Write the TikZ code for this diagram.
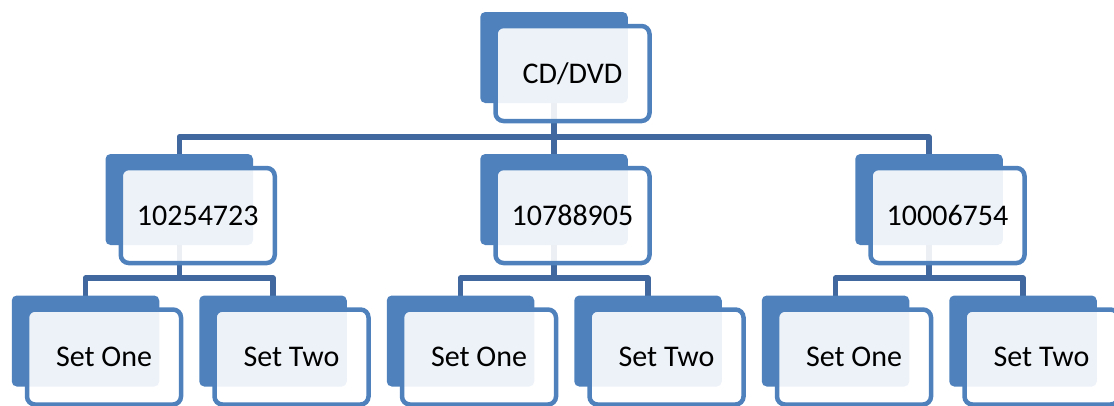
\documentclass[tikz,border=0pt]{standalone}
\usepackage{fontspec}
\setmainfont{Carlito}
\usetikzlibrary{backgrounds}
\definecolor{accent}{HTML}{4F81BD}
\definecolor{linkblue}{HTML}{41699F}

% card = blue back plate + translucent front panel carrying the label
\newcommand{\card}[4]{%
  \node[backbox] (#1) at (#2,#3) {};
  \node[frontbox] (#1F) at ([xshift=18.5pt,yshift=-16pt]#1.center) {#4};
}

\begin{document}
\begin{tikzpicture}[x=1pt,y=-1pt,
  backbox/.style={rectangle, rounded corners=5pt, fill=accent,
    minimum width=147.5pt, minimum height=91pt, inner sep=0pt},
  frontbox/.style={rectangle, rounded corners=8pt, draw=accent, line width=4.5pt,
    fill=white, fill opacity=0.9, text opacity=1, draw opacity=1,
    minimum width=154pt, minimum height=95pt, inner sep=0pt,
    font=\fontsize{30}{32}\selectfont},
  link/.style={draw=linkblue, line width=5.5pt, line join=round}]

\useasboundingbox (0,0) rectangle (1114,405);

% top level
\card{root}{554}{57.5}{CD/DVD}
% second level
\card{na}{179.25}{199.5}{10254723}
\card{nb}{554}{199.5}{10788905}
\card{nc}{929}{199.5}{10006754}
% third level
\card{a1}{85.5}{341}{Set One}
\card{a2}{273}{341}{Set Two}
\card{b1}{460.5}{341}{Set One}
\card{b2}{648}{341}{Set Two}
\card{c1}{835.5}{341}{Set One}
\card{c2}{1023}{341}{Set Two}

% connectors behind the cards
\begin{scope}[on background layer]
  \draw[link] (root.center) -- ++(0,79.5) -| (na.center);
  \draw[link] (root.center) -- ++(0,79.5) -| (nc.center);
  \draw[link] (root.center) -- (nb.center);
  \foreach \p/\l/\r in {na/a1/a2, nb/b1/b2, nc/c1/c2} {
    \draw[link] (\p.center) -- ++(0,78.5) -| (\l.center);
    \draw[link] (\p.center) -- ++(0,78.5) -| (\r.center);
  }
\end{scope}
\end{tikzpicture}
\end{document}
